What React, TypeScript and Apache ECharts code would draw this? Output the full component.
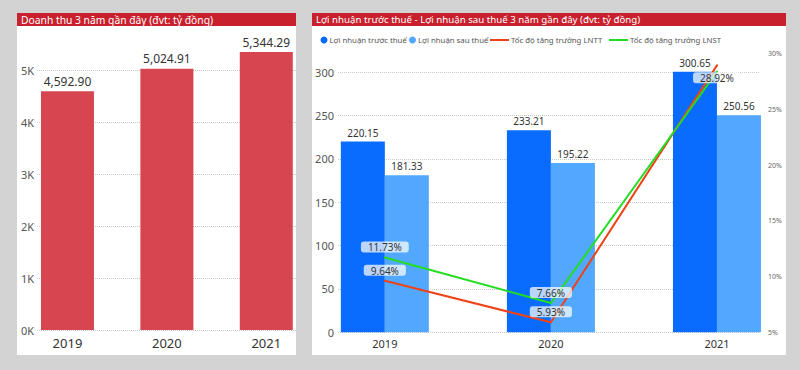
import React, { useEffect, useRef } from "react";
import * as echarts from "echarts";

const years = ["2019", "2020", "2021"];
const revenue = [4592.9, 5024.91, 5344.29];
const profitBeforeTax = [220.15, 233.21, 300.65];
const profitAfterTax = [181.33, 195.22, 250.56];
const growthBeforeTax = [9.64, 5.93, 28.92];
const growthAfterTax = [11.73, 7.66, 28.35];
const revenueTicks = [0, 1000, 2000, 3000, 4000, 5000];

const FONT = '"Noto Sans", "DejaVu Sans", sans-serif';

const leftTitle = "Doanh thu 3 năm gần đây (đvt: tỷ đồng)";
const rightTitle = "Lợi nhuận trước thuế - Lợi nhuận sau thuế 3 năm gần đây (đvt: tỷ đồng)";
const nameBT = "Lợi nhuận trước thuế";
const nameAT = "Lợi nhuận sau thuế";
const nameGBT = "Tốc độ tăng trưởng LNTT";
const nameGAT = "Tốc độ tăng trưởng LNST";

const fmt2 = (v: number) =>
  v.toLocaleString("en-US", { minimumFractionDigits: 2, maximumFractionDigits: 2 });

const dotted = { show: true, lineStyle: { type: "dotted" as const, color: "#c8c8c8", width: 1 } };

const legendText = { fontSize: 7.8, color: "#555", fontFamily: FONT, padding: [0, 0, 0, -3] };

export default function App() {
  const ref = useRef<HTMLDivElement>(null);
  useEffect(() => {
    if (!ref.current) return;
    const chart = echarts.init(ref.current, null, { renderer: "svg" });
    const lineLabel = {
      show: true,
      position: "top" as const,
      distance: 4,
      formatter: (p: any) => fmt2(p.value) + "%",
      fontSize: 10,
      fontFamily: FONT,
      color: "#333",
      backgroundColor: "rgba(255,255,255,0.72)",
      borderRadius: 3,
      padding: [1, 7, 0, 7],
    };
    const circleLegend = (left: number, name: string) => ({
      left, top: 31, itemWidth: 7, itemHeight: 7, icon: "circle", selectedMode: false,
      data: [name], textStyle: legendText,
    });
    const lineLegend = (left: number, name: string) => ({
      left, top: 31, itemWidth: 19, itemHeight: 2, icon: "rect", selectedMode: false,
      data: [name], textStyle: legendText,
    });
    chart.setOption({
      animation: false,
      textStyle: { fontFamily: FONT },
      graphic: [
        { type: "rect", z: 100, shape: { x: 17, y: 13, width: 279, height: 13 }, style: { fill: "#C8202D" } },
        { type: "text", z: 101, x: 21, y: 19.5, style: { text: leftTitle, fill: "#fff", fontSize: 10.3, fontFamily: FONT, verticalAlign: "middle" } },
        { type: "rect", z: 100, shape: { x: 312, y: 13, width: 474, height: 13 }, style: { fill: "#C8202D" } },
        { type: "text", z: 101, x: 316, y: 19.5, style: { text: rightTitle, fill: "#fff", fontSize: 9.7, fontFamily: FONT, verticalAlign: "middle" } },
      ],
      legend: [
        circleLegend(315.5, nameBT),
        circleLegend(404, nameAT),
        lineLegend(485, nameGBT),
        lineLegend(604, nameGAT),
      ],
      grid: [
        { left: 37, right: 800 - 296, top: 18, bottom: 40 },
        { left: 17.75, right: 800 - 316, top: 18, bottom: 40 },
        { left: 338, right: 40, top: 72.3, bottom: 370 - 332.3 },
        { left: 301.8, right: -1, top: 72.3, bottom: 370 - 332.3 },
        { left: 301.8, right: -1, top: 53.3, bottom: 370 - 332.7 },
        { left: 338, right: 40, top: 53.3, bottom: 370 - 332.7 },
      ],
      xAxis: [
        { gridIndex: 0, type: "category", data: years, show: false },
        {
          gridIndex: 1, type: "category", data: years,
          axisLine: { show: false }, axisTick: { show: false },
          axisLabel: { fontSize: 13, color: "#333", margin: 6, fontFamily: FONT },
        },
        { gridIndex: 2, type: "category", data: years, show: false },
        {
          gridIndex: 3, type: "category", data: years,
          axisLine: { show: false }, axisTick: { show: false },
          axisLabel: { fontSize: 11, color: "#333", margin: 6, fontFamily: FONT },
        },
        { gridIndex: 4, type: "category", data: years, show: false },
        { gridIndex: 5, type: "category", data: years, show: false },
      ],
      yAxis: [
        {
          gridIndex: 0, type: "value", min: 0, max: 6000, interval: 1000,
          axisLine: { show: false }, axisTick: { show: false },
          axisLabel: {
            fontSize: 11, color: "#555", margin: 3, fontFamily: FONT,
            formatter: (v: number) => (revenueTicks.includes(v) ? v / 1000 + "K" : ""),
          },
          splitLine: dotted,
        },
        { gridIndex: 1, type: "value", min: 0, max: 6000, show: false },
        {
          gridIndex: 2, type: "value", min: 0, max: 300, interval: 50,
          axisLine: { show: false }, axisTick: { show: false },
          axisLabel: { fontSize: 11, color: "#555", margin: 4, fontFamily: FONT },
          splitLine: dotted,
        },
        { gridIndex: 3, type: "value", min: 0, max: 300, show: false },
        { gridIndex: 4, type: "value", min: 5, max: 30, show: false },
        {
          gridIndex: 5, type: "value", min: 5, max: 30, interval: 5, position: "right",
          axisLine: { show: false }, axisTick: { show: false }, splitLine: { show: false },
          axisLabel: { fontSize: 7, color: "#666", margin: 8, fontFamily: FONT, formatter: "{value}%" },
        },
      ],
      series: [
        {
          name: "Doanh thu", type: "bar", xAxisIndex: 1, yAxisIndex: 1, data: revenue, barWidth: 53,
          itemStyle: { color: "#D64550" },
          label: { show: true, position: "top", distance: 4, fontSize: 12, color: "#333", fontFamily: FONT, formatter: (p: any) => fmt2(p.value) },
        },
        {
          name: nameBT, type: "bar", xAxisIndex: 3, yAxisIndex: 3, data: profitBeforeTax, barWidth: 44, barGap: "0%", clip: false,
          itemStyle: { color: "#0A6CFF" },
          label: { show: true, position: "top", distance: 4, fontSize: 10, color: "#333", fontFamily: FONT, formatter: (p: any) => fmt2(p.value) },
        },
        {
          name: nameAT, type: "bar", xAxisIndex: 3, yAxisIndex: 3, data: profitAfterTax, barWidth: 44, barGap: "0%", clip: false,
          itemStyle: { color: "#52A8FF" },
          label: { show: true, position: "top", distance: 4, fontSize: 10, color: "#333", fontFamily: FONT, formatter: (p: any) => fmt2(p.value) },
        },
        {
          name: nameGBT, type: "line", xAxisIndex: 4, yAxisIndex: 4, symbol: "circle", symbolSize: 2,
          itemStyle: { color: "#EE4318" }, lineStyle: { color: "#EE4318", width: 2 },
          data: growthBeforeTax.map((v, i) => (i === 2 ? { value: v, label: { position: "bottom", distance: 6 } } : v)),
          label: lineLabel,
        },
        {
          name: nameGAT, type: "line", xAxisIndex: 4, yAxisIndex: 4, symbol: "circle", symbolSize: 2,
          itemStyle: { color: "#22DD22" }, lineStyle: { color: "#22DD22", width: 2 },
          data: growthAfterTax.map((v, i) => (i === 2 ? { value: v, label: { show: false } } : v)),
          label: lineLabel,
        },
      ],
    });
    return () => chart.dispose();
  }, []);

  return (
    <div style={{ position: "absolute", left: 0, top: 0, width: 800, height: 370, background: "#d3d3d3", overflow: "hidden" }}>
      <div style={{ position: "absolute", left: 17, top: 13, width: 279, height: 342, background: "#fff" }} />
      <div style={{ position: "absolute", left: 312, top: 13, width: 474, height: 342, background: "#fff" }} />
      <div ref={ref} style={{ position: "absolute", left: 0, top: 0, width: 800, height: 370 }} />
    </div>
  );
}
